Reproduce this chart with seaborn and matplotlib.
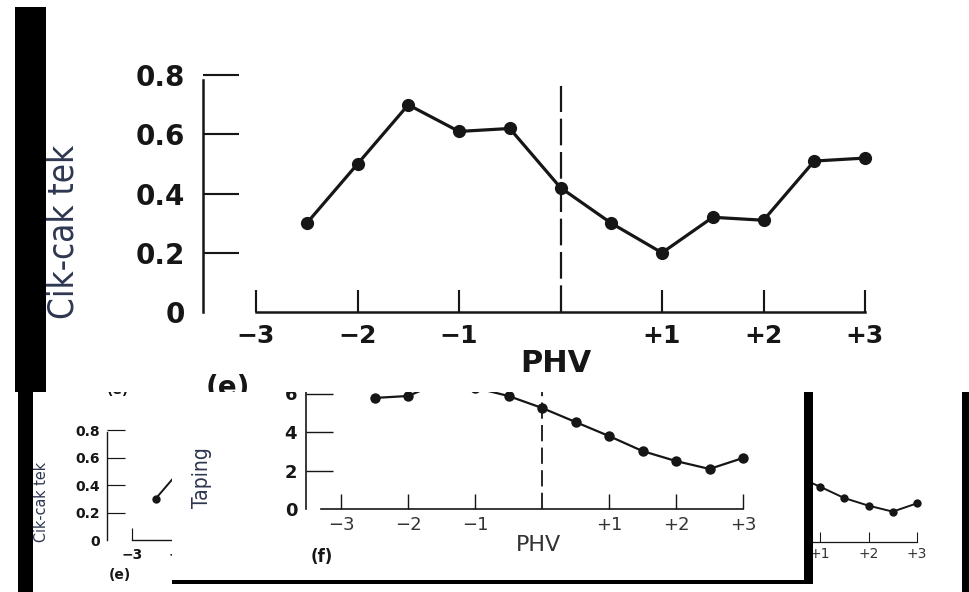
import matplotlib
matplotlib.use("Agg")
import matplotlib.pyplot as plt
from matplotlib.patches import Rectangle
from matplotlib.transforms import Bbox, TransformedBbox
import seaborn as sns

# Years relative to peak height velocity (PHV) at which each test was taken
phv_years = [-2.5, -2.0, -1.5, -1.0, -0.5, 0.0, 0.5, 1.0, 1.5, 2.0, 2.5, 3.0]
# Zig-zag run test score
ciktek = [0.30, 0.50, 0.70, 0.61, 0.62, 0.42, 0.30, 0.20, 0.32, 0.31, 0.51, 0.52]
# Plate-tapping score
taping = [5.77, 5.87, 6.60, 6.30, 5.87, 5.25, 4.52, 3.79, 3.01, 2.49, 2.08, 2.65]

xtick_values = [-3, -2, -1, 1, 2, 3]
xtick_labels = ["−3", "−2", "−1", "+1", "+2", "+3"]
ctick_values = [0, 0.2, 0.4, 0.6, 0.8]
ctick_labels = ["0", "0.2", "0.4", "0.6", "0.8"]
ttick_values = [0, 2, 4, 6]
ttick_labels = ["0", "2", "4", "6"]

sns.set_style("white")
plt.rcParams["font.family"] = ["DejaVu Sans"]
NARROW = ["Liberation Sans Narrow", "DejaVu Sans"]
INK = "#161616"
SOFT = "#333333"
LABEL = "#2e3650"

W, H = 969, 592
fig = plt.figure(figsize=(W / 100, H / 100), dpi=100)
fig.patch.set_facecolor("white")


def fig_rect(x0, y0, x1, y1, color, z):
    """Filled block given in pixel coordinates (origin at top-left)."""
    fig.add_artist(Rectangle((x0 / W, 1 - y1 / H), (x1 - x0) / W, (y1 - y0) / H,
                             transform=fig.transFigure, facecolor=color,
                             edgecolor="none", zorder=z))


def data_axes(origin, unit, xlim, ylim, z):
    """Axes whose data origin sits at `origin` px with `unit` px per data unit."""
    ox, oy = origin
    ux, uy = unit
    left, right = ox + xlim[0] * ux, ox + xlim[1] * ux
    top, bottom = oy - ylim[1] * uy, oy - ylim[0] * uy
    ax = fig.add_axes([left / W, 1 - bottom / H, (right - left) / W, (bottom - top) / H])
    ax.set_xlim(*xlim)
    ax.set_ylim(*ylim)
    ax.set_zorder(z)
    ax.patch.set_facecolor("none")
    return ax


def style_axes(ax, yt, yl, xt, xl, ybound, xbound, lw, ylen, xlen,
               ysize, xsize, yweight, xweight, ypad, xpad, xcolor=INK,
               hide_zero=True):
    for s in ("top", "right"):
        ax.spines[s].set_visible(False)
    for s in ("left", "bottom"):
        ax.spines[s].set_linewidth(lw)
        ax.spines[s].set_color(INK)
    ax.spines["left"].set_bounds(*ybound)
    ax.spines["bottom"].set_bounds(*xbound)
    ax.set_yticks(yt, yl, fontsize=ysize, fontweight=yweight, color=INK)
    ax.set_xticks(xt, xl, fontsize=xsize, fontweight=xweight, color=xcolor)
    ax.tick_params(axis="y", which="major", left=True, direction="in",
                   length=ylen, width=lw * 0.85, pad=ypad, color=INK)
    ax.tick_params(axis="x", which="major", bottom=True, direction="in",
                   length=xlen, width=lw * 0.85, pad=xpad, color=INK)
    ax.grid(False)
    if hide_zero and len(yt) and yt[0] == 0:
        ax.yaxis.get_major_ticks()[0].tick1line.set_visible(False)


def axis_label(ax, which, text, px, py, **kw):
    axis = ax.yaxis if which == "y" else ax.xaxis
    if which == "y":
        ax.set_ylabel(text, **kw)
    else:
        ax.set_xlabel(text, **kw)
    axis.set_label_coords(px / W, 1 - py / H, transform=fig.transFigure)
    axis.label.set_va("center")
    axis.label.set_ha("center")


# ---------------- (e) zig-zag run, large panel ----------------
ax_e = data_axes((560.5, 312), (101.5, 296), (-3.52, 3.30), (0, 0.85), 5)
sns.lineplot(x=phv_years, y=ciktek, ax=ax_e, color=INK, linewidth=2.3,
             marker="o", markersize=9.5, markeredgewidth=0, markeredgecolor=INK)
ax_e.axvline(0, ymin=0, ymax=0.90, color=INK, linewidth=1.6,
             linestyle=(0, (12, 3)))
style_axes(ax_e, ctick_values, ctick_labels, xtick_values, xtick_labels,
           ybound=(0, 0.785), xbound=(-3, 3), lw=1.8, ylen=26, xlen=16,
           ysize=20, xsize=18, yweight="bold", xweight="bold", ypad=13, xpad=9)
axis_label(ax_e, "y", "Cik-cak tek", 64, 232, fontsize=25, family=NARROW,
           fontstretch="condensed", color=LABEL)
axis_label(ax_e, "x", "PHV", 556, 364, fontsize=22, fontweight="bold", color=INK)
e_tag = fig.text(228 / W, 1 - 388 / H, "(e)", fontsize=20, fontweight="bold",
                 color=INK, ha="center", va="center", zorder=6)
e_tag.set_clip_box(TransformedBbox(Bbox.from_extents(0, 1 - 392 / H, 1, 1),
                                   fig.transFigure))

# ---------------- small copy of (e), lower left ----------------
ax_e2 = data_axes((273, 540), (47, 137), (-3.53, 3.30), (0, 0.85), 1)
sns.lineplot(x=phv_years, y=ciktek, ax=ax_e2, color=INK, linewidth=1.4,
             marker="o", markersize=6, markeredgewidth=0, markeredgecolor=INK)
style_axes(ax_e2, ctick_values, ctick_labels, xtick_values[:2], xtick_labels[:2],
           ybound=(0, 0.785), xbound=(-3, 3), lw=1.0, ylen=13, xlen=8.5,
           ysize=10, xsize=10, yweight="bold", xweight="bold", ypad=5, xpad=6)
axis_label(ax_e2, "y", "Cik-cak tek", 42, 502, fontsize=11.5, family=NARROW,
           fontstretch="condensed", color=LABEL)
ax_e2.text(120 / W, 1 - 575 / H, "(e)", transform=fig.transFigure, fontsize=10,
           fontweight="bold", color=INK, ha="center", va="center")
fig.text(118 / W, 1 - 390 / H, "(e)", fontsize=10, fontweight="bold",
         color=INK, ha="center", va="center", zorder=1)

# ---------------- small copy of (f), lower right ----------------
ax_f2 = data_axes((771.5, 542), (48.5, 14.6), (-3.52, 3.30), (0, 7), 1)
sns.lineplot(x=phv_years, y=taping, ax=ax_f2, color=INK, linewidth=1.4,
             marker="o", markersize=6, markeredgewidth=0, markeredgecolor=INK)
style_axes(ax_f2, [], [], xtick_values[3:], xtick_labels[3:],
           ybound=(0, 7), xbound=(-3.3, 3), lw=0.9, ylen=14, xlen=7.5,
           ysize=9, xsize=10, yweight="bold", xweight="normal", ypad=4, xpad=3.5,
           xcolor=SOFT)

# ---------------- (f) plate tapping ----------------
fig_rect(172, 392, 804, 592, "white", 2)
ax_f = data_axes((542, 509), (67, 19.25), (-3.52, 3.30), (0, 7), 3)
sns.lineplot(x=phv_years, y=taping, ax=ax_f, color=INK, linewidth=1.6,
             marker="o", markersize=7.5, markeredgewidth=0, markeredgecolor=INK)
ax_f.axvline(0, ymin=0, ymax=1, color=INK, linewidth=1.3,
             linestyle=(0, (9, 3.5)))
style_axes(ax_f, ttick_values, ttick_labels, xtick_values, xtick_labels,
           ybound=(0, 7), xbound=(-3.3, 3), lw=1.2, ylen=19.5, xlen=10.5,
           ysize=13, xsize=13, yweight="bold", xweight="normal", ypad=6.5, xpad=5,
           xcolor=SOFT)
axis_label(ax_f, "y", "Taping", 202, 478, fontsize=15, family=NARROW,
           fontstretch="condensed", color=LABEL)
axis_label(ax_f, "x", "PHV", 539, 545, fontsize=16, color=SOFT)
ax_f.text(322 / W, 1 - 557 / H, "(f)", transform=fig.transFigure, fontsize=12,
          fontweight="bold", color=INK, ha="center", va="center")

# ---------------- panel borders ----------------
fig_rect(172, 580, 806, 584, "black", 3.5)
fig_rect(804, 392, 813, 584, "black", 3.5)
fig_rect(962, 392, 969, 592, "black", 3.5)
fig_rect(18, 392, 33, 592, "black", 3.5)
fig_rect(0, 0, W, 392, "white", 4)
fig_rect(15, 7, 46, 392, "black", 4.5)

fig.savefig("out.png", dpi=100, facecolor="white")
